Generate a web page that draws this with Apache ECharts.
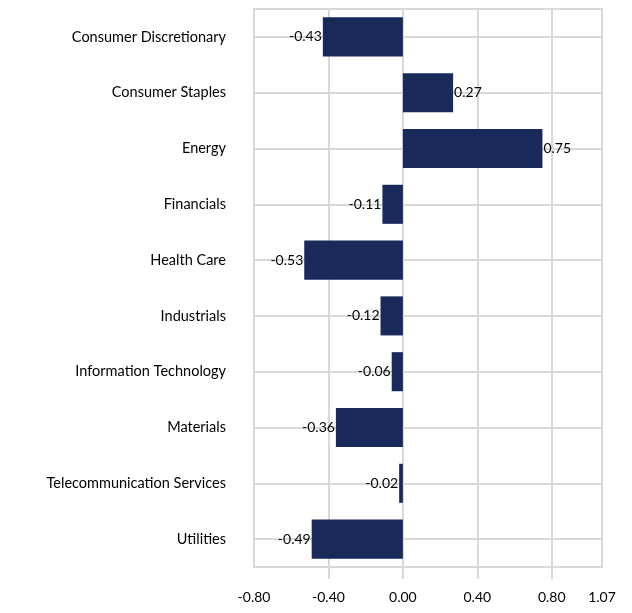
<!DOCTYPE html>
<html><head><meta charset="utf-8">
<script src="https://cdn.jsdelivr.net/npm/echarts@6/dist/echarts.min.js"></script>
<style>html,body{margin:0;padding:0;background:#fff}#c{width:632px;height:613px}</style>
</head><body><div id="c"></div>
<script>
const categories = ["Consumer Discretionary","Consumer Staples","Energy","Financials","Health Care","Industrials","Information Technology","Materials","Telecommunication Services","Utilities"];
const values = [-0.43, 0.27, 0.75, -0.11, -0.53, -0.12, -0.06, -0.36, -0.02, -0.49];
const xTickLabels = [-0.8, -0.4, 0, 0.4, 0.8, 1.07];
const xMin = -0.8, xMax = 1.07;

const FONT = 'Lato';
const gridColor = '#d9d9d9';
const chart = echarts.init(document.getElementById('c'));
chart.setOption({
  animation: false,
  grid: {left: 254, right: 30, top: 9, bottom: 46, show: true, borderColor: gridColor, borderWidth: 2, containLabel: false},
  xAxis: {
    type: 'value', min: xMin, max: xMax, interval: 0.4,
    axisLine: {show: false},
    axisTick: {show: true, length: 12, lineStyle: {color: gridColor, width: 2}, customValues: [-0.4, 0, 0.4, 0.8]},
    axisLabel: {customValues: xTickLabels, margin: 23, fontFamily: FONT, fontSize: 14, color: '#000',
      formatter: v => v.toFixed(2)},
    splitLine: {show: true, lineStyle: {color: gridColor, width: 2}}
  },
  yAxis: {
    type: 'category', data: categories, inverse: true,
    axisLine: {show: false},
    axisTick: {show: true, alignWithLabel: true, length: 12, lineStyle: {color: gridColor, width: 2}},
    axisLabel: {margin: 28, fontFamily: FONT, fontSize: 14.5, color: '#000'},
    splitLine: {show: true, alignWithLabel: true, lineStyle: {color: gridColor, width: 2}}
  },
  series: [{
    type: 'bar', barCategoryGap: '30%',
    data: values.map(v => ({value: v, label: {position: v < 0 ? 'left' : 'right'}})),
    itemStyle: {color: '#18295a'},
    label: {show: true, fontFamily: FONT, fontSize: 14, color: '#000', distance: 1,
      formatter: p => p.value.toFixed(2)
    }
  }]
});
</script></body></html>
